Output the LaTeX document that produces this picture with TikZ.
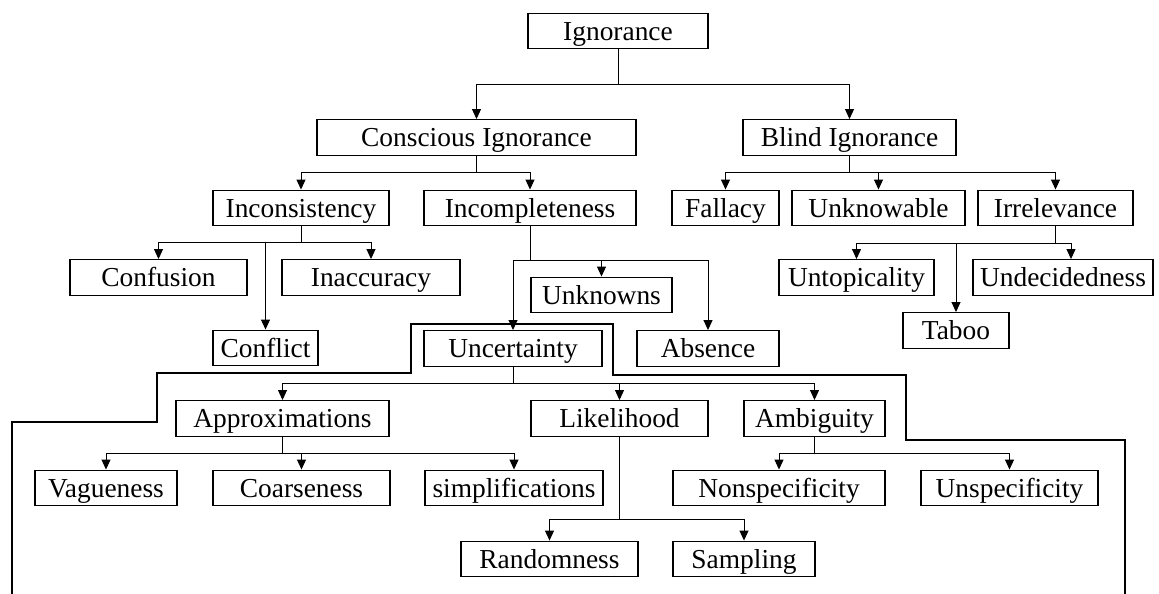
\documentclass[tikz,border=0pt]{standalone}
\usepackage{fontspec}
\setmainfont{Liberation Serif}
\usetikzlibrary{arrows.meta}

\begin{document}
\begin{tikzpicture}[x=0.02cm, y=-0.02cm,
		box/.style={draw, line width=0.8pt, inner sep=0pt, minimum height=0.71cm,
			text height=12pt, text depth=1.7pt, font=\fontsize{15.6pt}{18pt}\selectfont},
		link/.style={line width=0.55pt, -{Triangle[length=0.2cm, width=0.18cm]}},
		border/.style={line width=1.3pt}]
	\useasboundingbox [fill=white] (0,0) rectangle (1159,594);
	% top levels
	\node (ign) [box, minimum width=3.6cm] at (618,31) {Ignorance};
	\node (con) [box, minimum width=6.38cm] at (476.5,137.5) {Conscious Ignorance};
	\node (bli) [box, minimum width=4.26cm] at (849.5,137.5) {Blind Ignorance};
	\node (inc) [box, minimum width=3.52cm] at (301,208) {Inconsistency};
	\node (icp) [box, minimum width=4.24cm] at (530,208) {Incompleteness};
	\node (fal) [box, minimum width=2.14cm] at (725.5,208) {Fallacy};
	\node (unk) [box, minimum width=3.46cm] at (878.5,208) {Unknowable};
	\node (irr) [box, minimum width=3.1cm] at (1055.5,208) {Irrelevance};
	% middle
	\node (cfs) [box, minimum width=3.54cm] at (158.5,277.5) {Confusion};
	\node (ina) [box, minimum width=3.56cm] at (371,277.5) {Inaccuracy};
	\node (cfl) [box, minimum width=2.1cm] at (265.5,348) {Conflict};
	\node (ukn) [box, minimum width=2.82cm] at (601.5,295) {Unknowns};
	\node (unc) [box, minimum width=3.56cm] at (513,348.5) {Uncertainty};
	\node (abs) [box, minimum width=2.84cm] at (708,348.5) {Absence};
	\node (unt) [box, minimum width=3.1cm] at (856.5,277.5) {Untopicality};
	\node (und) [box, minimum width=3.6cm] at (1063,277.5) {Undecidedness};
	\node (tab) [box, minimum width=2.12cm] at (956,330.5) {Taboo};
	% uncertainty part
	\node (app) [box, minimum width=4.26cm] at (282.5,418.5) {Approximations};
	\node (lik) [box, minimum width=3.54cm] at (619.5,418.5) {Likelihood};
	\node (amb) [box, minimum width=2.82cm] at (814.5,418.5) {Ambiguity};
	\node (vag) [box, minimum width=2.84cm] at (106,488) {Vagueness};
	\node (coa) [box, minimum width=3.54cm] at (301.5,488) {Coarseness};
	\node (sim) [box, minimum width=3.56cm] at (514,488) {simplifications};
	\node (non) [box, minimum width=4.24cm] at (779,488) {Nonspecificity};
	\node (uns) [box, minimum width=3.54cm] at (1009.5,488) {Unspecificity};
	\node (ran) [box, minimum width=3.54cm] at (549.5,559) {Randomness};
	\node (sam) [box, minimum width=2.84cm] at (744,559) {Sampling};

	\draw [link] (ign.south) -- ++(0,35) -| (con.north);
	\draw [link] (ign.south) -- ++(0,35) -| (bli.north);
	\draw [link] (con.south) -- ++(0,17) -| (inc.north);
	\draw [link] (con.south) -- ++(0,17) -| (icp.north);
	\draw [link] (bli.south) -- ++(0,17) -| (fal.north);
	\draw [link] (bli.south) -- ++(0,17) -| (unk.north);
	\draw [link] (bli.south) -- ++(0,17) -| (irr.north);
	\draw [link] (inc.south) -- ++(0,16) -| (cfs.north);
	\draw [link] (inc.south) -- ++(0,16) -| (ina.north);
	\draw [link] (inc.south) -- ++(0,16) -| (cfl.north);
	\draw [link] (icp.south) -- ++(0,34) -| (unc.north);
	\draw [link] (icp.south) -- ++(0,34) -| (ukn.north);
	\draw [link] (icp.south) -- ++(0,34) -| (abs.north);
	\draw [link] (irr.south) -- ++(0,17) -| (unt.north);
	\draw [link] (irr.south) -- ++(0,17) -| ([xshift=0.16cm]und.north);
	\draw [link] (irr.south) -- ++(0,17) -| (tab.north);
	\draw [link] (unc.south) -- ++(0,17) -| (app.north);
	\draw [link] (unc.south) -- ++(0,17) -| (lik.north);
	\draw [link] (unc.south) -- ++(0,17) -| (amb.north);
	\draw [link] (app.south) -- ++(0,17) -| (vag.north);
	\draw [link] (app.south) -- ++(0,17) -| (coa.north);
	\draw [link] (app.south) -- ++(0,17) -| (sim.north);
	\draw [link] (lik.south) -- ++(0,83) -| (ran.north);
	\draw [link] (lik.south) -- ++(0,83) -| (sam.north);
	\draw [link] (amb.south) -- ++(0,17) -| (non.north);
	\draw [link] (amb.south) -- ++(0,17) -| (uns.north);

	% boundary round the uncertainty part
	\draw [border] (12,594) -- (12,422) -- (157,422) -- (157,373) -- (411,373)
		-- (411,324) -- (613,324) -- (613,375) -- (906,375) -- (906,440)
		-- (1125,440) -- (1125,594);
\end{tikzpicture}
\end{document}
